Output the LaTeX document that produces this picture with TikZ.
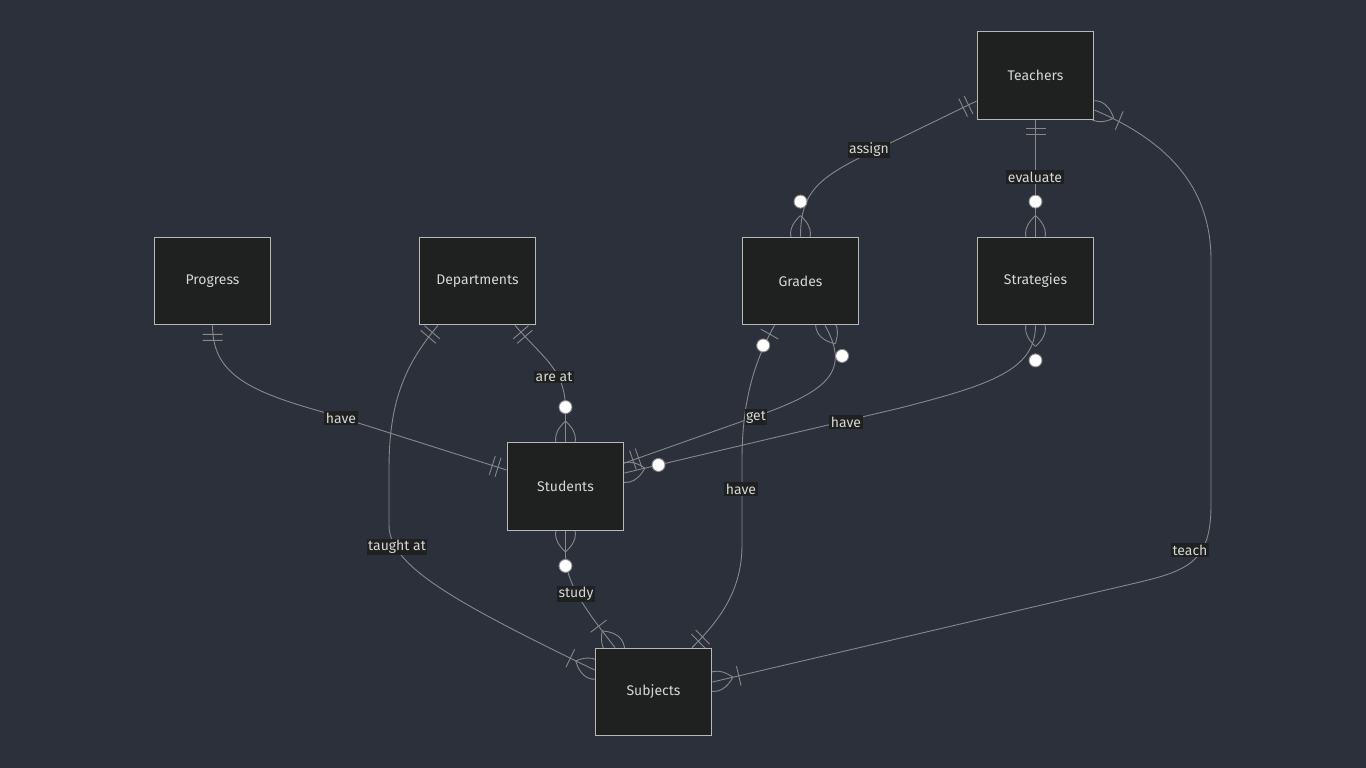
\documentclass[tikz,border=0pt]{standalone}
\usepackage{fontspec}
\setmainfont{Fira Sans}
\usetikzlibrary{calc,decorations.markings}

\definecolor{pagebg}{RGB}{43,48,59}
\definecolor{boxfill}{RGB}{31,32,32}
\definecolor{boxline}{RGB}{184,184,184}
\definecolor{linkc}{RGB}{136,136,136}
\definecolor{txt}{RGB}{214,214,214}

\pgfdeclarelayer{bg}
\pgfdeclarelayer{links}
\pgfsetlayers{bg,links,main}

% Relationship end markers, drawn in the marking frame (x runs away from the box)
\newcommand\mkOnlyOne[1]{\begin{scope}[xscale=#1]
  \draw[mk] (9,-10)--(9,10) (15,-10)--(15,10);\end{scope}}
\newcommand\mkLens{\draw[mk] (21,0) .. controls (9,13.3) and (-3,13.3) .. (-15,0)
  .. controls (-3,-13.3) and (9,-13.3) .. (21,0);}
\newcommand\mkZeroMany[1]{\begin{scope}[xscale=#1]
  \mkLens\draw[mk,fill=white] (35,0) circle[radius=6.5pt];\end{scope}}
\newcommand\mkOneMany[1]{\begin{scope}[xscale=#1]
  \mkLens\draw[mk] (27,-10)--(27,10);\end{scope}}
\newcommand\mkZeroOne[1]{\begin{scope}[xscale=#1]
  \draw[mk] (10,-10)--(10,10);\draw[mk,fill=white] (23,0) circle[radius=6.5pt];\end{scope}}

\tikzset{
  entity/.style={draw=boxline, line width=1.3pt, fill=boxfill, text=txt,
    minimum width=116.5pt, minimum height=87.5pt, inner sep=0pt,
    font=\fontsize{14}{16}\selectfont},
  lbl/.style={fill=boxfill, text=txt, inner xsep=1.5pt, inner ysep=1.5pt,
    font=\fontsize{14}{16}\selectfont},
  link/.style={draw=linkc, line width=0.9pt},
  mk/.style={draw=linkc, line width=0.9pt},
  ends/.style 2 args={postaction={decorate,decoration={markings,
      mark=at position 0 with {#1{1}},
      mark=at position 0.99999 with {#2{-1}}}}}
}

\begin{document}
\begin{tikzpicture}[x=1pt,y=-1pt]
\begin{pgfonlayer}{bg}
  \fill[pagebg] (0,0) rectangle (1366,768);
\end{pgfonlayer}

% entities
\node[entity] (teachers)    at (1035.5,75.5) {Teachers};
\node[entity] (strategies)  at (1035.5,281)  {Strategies};
\node[entity] (grades)      at (800.5,281)   {Grades};
\node[entity] (departments) at (477.5,281)   {Departments};
\node[entity] (progress)    at (212.5,281)   {Progress};
\node[entity] (students)    at (565.5,486.5) {Students};
\node[entity] (subjects)    at (653.5,692)   {Subjects};

% relationships
\begin{pgfonlayer}{links}
\draw[link, ends={\mkOnlyOne}{\mkZeroMany}]
  ($(teachers.west)+(0,25.5)$) -- (880,148)
  .. controls (820,176) and (800.5,190) .. (grades.north);
\draw[link, ends={\mkOnlyOne}{\mkZeroMany}] (teachers.south) -- (strategies.north);
\draw[link, ends={\mkOneMany}{\mkOneMany}]
  ($(teachers.east)+(0,34.5)$) .. controls (1165,140) and (1211,185) .. (1211,260)
  -- (1211,505) .. controls (1211,560) and (1190,570) .. (1140,582)
  -- ($(subjects.east)+(0,-10)$);
\draw[link, ends={\mkOnlyOne}{\mkOnlyOne}]
  (progress.south) .. controls (212.5,375) and (250,392) .. (330,414)
  -- ($(students.west)+(0,-16.5)$);
\draw[link, ends={\mkOnlyOne}{\mkZeroMany}]
  ($(departments.south)+(37.5,0)$) .. controls (545,360) and (565.5,370) .. (565.5,410)
  -- (students.north);
\draw[link, ends={\mkOnlyOne}{\mkOneMany}]
  ($(departments.south)+(-39.5,0)$) .. controls (400,370) and (389,410) .. (389,470)
  -- (389,525) .. controls (389,565) and (450,600) .. ($(subjects.west)+(0,-22)$);
\draw[link, ends={\mkZeroMany}{\mkOneMany}]
  (students.south) -- (565.5,555) .. controls (565.5,585) and (590,615)
  .. ($(subjects.north)+(-38.5,0)$);
\draw[link, ends={\mkZeroMany}{\mkOnlyOne}]
  ($(grades.south)+(24.5,0)$) .. controls (850,370) and (830,390) .. (760,415)
  -- ($(students.east)+(0,-23.5)$);
\draw[link, ends={\mkZeroMany}{\mkZeroMany}]
  (strategies.south) .. controls (1035.5,370) and (990,385) .. (900,408)
  -- ($(students.east)+(0,-13.5)$);
\draw[link, ends={\mkZeroOne}{\mkOnlyOne}]
  ($(grades.south)+(-26,0)$) .. controls (755,360) and (742,400) .. (742,460)
  -- (742,545) .. controls (742,590) and (720,620) .. ($(subjects.north)+(38.5,0)$);
\end{pgfonlayer}

% relationship labels
\node[lbl] (l-assign)   at (869,150)  {assign};
\node[lbl] (l-evaluate) at (1035,177) {evaluate};
\node[lbl] (l-teach)    at (1190,550) {teach};
\node[lbl] (l-phave)    at (341,418)  {have};
\node[lbl] (l-areat)    at (554,377)  {are at};
\node[lbl] (l-taught)   at (397,547)  {taught at};
\node[lbl] (l-study)    at (576,594)  {study};
\node[lbl] (l-get)      at (756,417)  {get};
\node[lbl] (l-shave)    at (846,422)  {have};
\node[lbl] (l-ghave)    at (741,489)  {have};
\end{tikzpicture}
\end{document}
